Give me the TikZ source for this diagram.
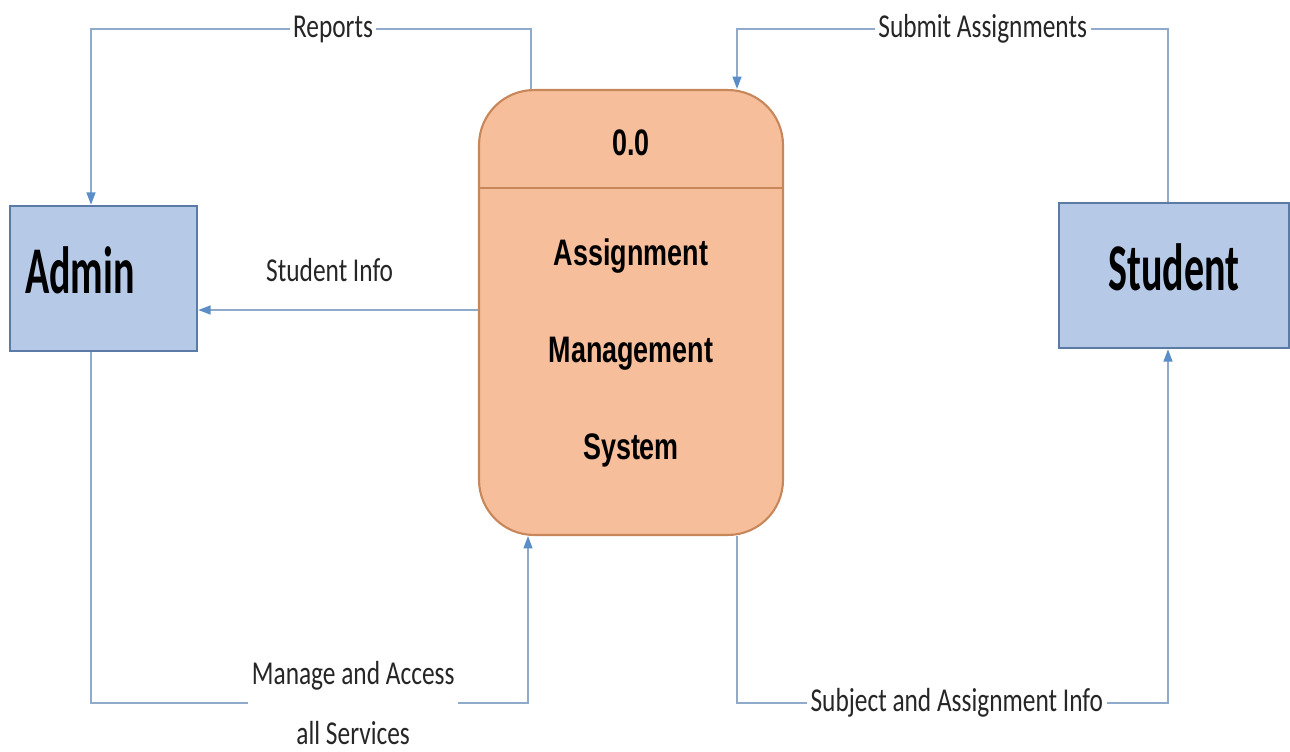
\documentclass[tikz,border=0pt]{standalone}
\usepackage{fontspec}
\usetikzlibrary{arrows.meta,positioning}
\newfontfamily\entityfont[FakeStretch=0.6]{Carlito}
\newfontfamily\procfont[FakeStretch=0.73]{Liberation Sans}
\newfontfamily\flowfont[FakeStretch=0.76]{Carlito}
\definecolor{entfill}{HTML}{B6CAE8}
\definecolor{entdraw}{HTML}{5B7BA6}
\definecolor{procfill}{HTML}{F6BE9A}
\definecolor{procdraw}{HTML}{C8875A}
\definecolor{flowline}{HTML}{8FAACB}
\definecolor{flowtip}{HTML}{5B8DC6}
\definecolor{flowtext}{HTML}{262626}
\tikzset{
  entity/.style={draw=entdraw, line width=1.4pt, fill=entfill, minimum height=2.9cm, text depth=0.32cm,
    font={\entityfont\bfseries\fontsize{38}{40}\selectfont}},
  process/.style={draw=procdraw, line width=1.2pt, fill=procfill, rounded corners=1.1cm,
    minimum width=6.08cm, minimum height=8.9cm},
  proctext/.style={font={\procfont\bfseries\fontsize{21}{55}\selectfont}, align=center},
  flow/.style={draw=flowline, line width=1pt, -{Triangle[length=7pt,width=5pt,color=flowtip]}},
  flowlbl/.style={font={\flowfont\fontsize{19}{34}\selectfont}, text=flowtext, fill=white,
    inner sep=2pt, align=center}
}
\begin{document}
\begin{tikzpicture}[x=0.02cm, y=-0.02cm]
  \useasboundingbox (0,0) rectangle (1290,751);
  % entities and process
  \node[entity, align=left, text width=3.14cm, inner xsep=0.3cm] (admin) at (103.5,278.5) {Admin};
  \node[entity, minimum width=4.6cm] (student) at (1174,275.5) {Student};
  \node[process] (proc) at (631,312.5) {};
  \coordinate (sep) at (631,188);
  \draw[procdraw, line width=1.6pt] (proc.west |- sep) -- (proc.east |- sep);
  \node[proctext] (pid) at (631,143) {0.0};
  \node[proctext] (pname) at (631,353) {Assignment\\Management\\System};
  % corners of the flows
  \coordinate (rep1) at (531,29);
  \coordinate (rep2) at (91,29);
  \coordinate (sub1) at (1168,29);
  \coordinate (sub2) at (737,29);
  \coordinate (info) at (0,310);
  \coordinate (man1) at (91,703);
  \coordinate (man2) at (528,703);
  \coordinate (sai1) at (737,703);
  \coordinate (sai2) at (1168,703);
  % data flows
  \draw[flow] (proc.north -| rep1) -- (rep1) -- node[flowlbl, pos=0.45] (lrep) {Reports} (rep2) -- (admin.north -| rep2);
  \draw[flow] (student.north -| sub1) -- (sub1) -- node[flowlbl, pos=0.43] (lsub) {Submit Assignments} (sub2) -- (proc.north -| sub2);
  \draw[flow] (proc.west |- info) -- node[flowlbl, pos=0.53, yshift=0.8cm] (linfo) {Student Info} (admin.east |- info);
  \draw[flow] (admin.south -| man1) -- (man1) -- node[flowlbl, pos=0.6] (lman) {Manage and Access\\all Services} (man2) -- (proc.south -| man2);
  \draw[flow] (proc.south -| sai1) -- (sai1) -- node[flowlbl, pos=0.51] (lsai) {Subject and Assignment Info} (sai2) -- (student.south -| sai2);
\end{tikzpicture}
\end{document}
